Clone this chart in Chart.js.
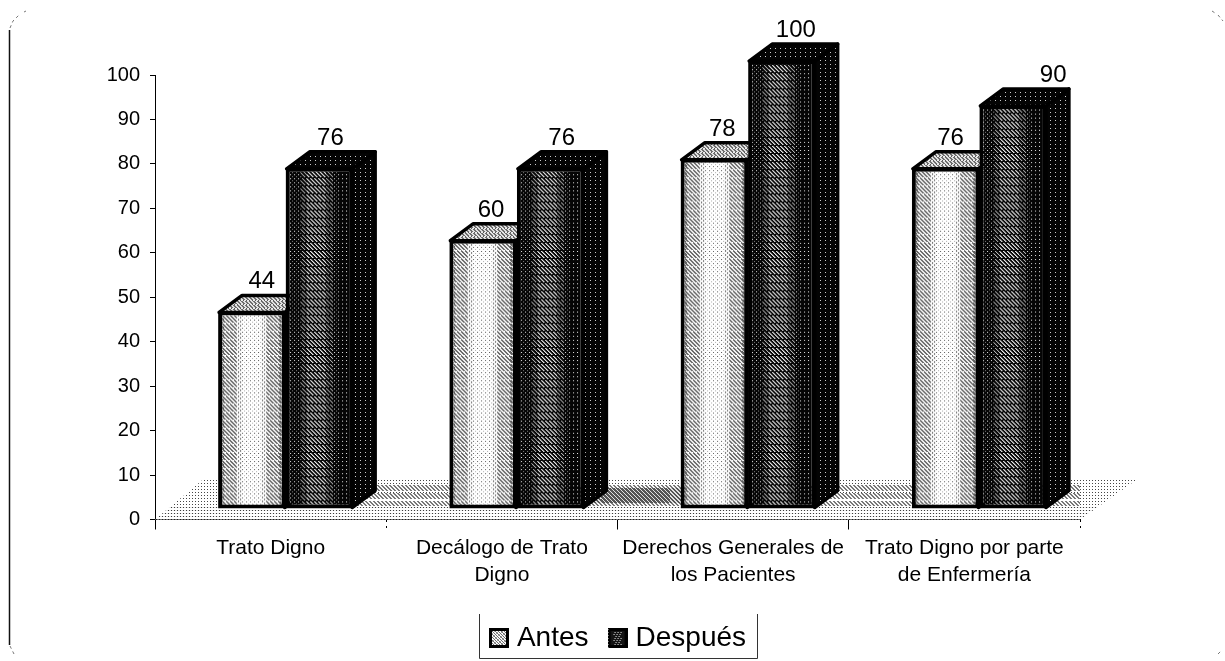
<!DOCTYPE html>
<html lang="es">
<head>
<meta charset="utf-8">
<title>Trato Digno</title>
<script src="https://cdn.jsdelivr.net/npm/chart.js@4"></script>
<style>
html,body{margin:0;padding:0;background:#fff}
canvas{display:block}
</style>
</head>
<body>
<canvas id="grafica" width="1225" height="661"></canvas>
<script>
const categories = [
  ["Trato Digno"],
  ["Decálogo de Trato", "Digno"],
  ["Derechos Generales de", "los Pacientes"],
  ["Trato Digno por parte", "de Enfermería"]
];
const antes = [44, 60, 78, 76];
const despues = [76, 76, 100, 90];
const seriesNames = ["Antes", "Después"];

const FONT = '"Liberation Sans", Arial, sans-serif';
const GROUP_SHARE = 0.584;
const DEPTH = { x: 23, y: -17 };       // oblique vector of the 3D box
const FRONT = { x: 15, y: -10.5, k: 1.01 }; // front plane relative to the axis plane
// Horizontal shift of each value label, per series and category
const LABEL_SHIFT = [[10, 8, 8, 5], [11, 11, 14, 40]];

const mod = (a, n) => ((a % n) + n) % n;

// Builds a canvas whose pixels come from a grey-level function
function tile(w, h, grey) {
  const c = document.createElement("canvas");
  c.width = w; c.height = h;
  const g = c.getContext("2d");
  const img = g.createImageData(w, h);
  for (let y = 0; y < h; y++) for (let x = 0; x < w; x++) {
    const v = grey(x, y), i = (y * w + x) * 4;
    img.data[i] = img.data[i + 1] = img.data[i + 2] = v;
    img.data[i + 3] = 255;
  }
  g.putImageData(img, 0, 0);
  return c;
}

// Dithered shading of the light column: white middle, hatched flanks
const lightShade = (x, y) => {
  const u = Math.abs(x - 33) / 33;
  const stroke = mod(x - y, 4) < 2;
  if (u < 0.3) {
    if (mod(x, 4) === 0 && mod(y, 4) === 0) return 95;
    if (mod(x, 4) === 2 && mod(y, 4) === 2) return 175;
    return 255;
  }
  if (mod(y, 8) === 7) return mod(x, 4) === 0 ? 120 : 250;
  if (u < 0.46) return stroke && mod(x, 2) === 0 ? 130 : 250;
  if (u > 0.84) return mod(x - y, 4) < 3 ? 95 : 220;
  return stroke ? 105 : 245;
};
// Dithered shading of the dark column: black with dots and a hatched band
const darkShade = (x, y) => {
  if (x >= 15 && x <= 46 && mod(y, 8) !== 7) {
    const d = mod(x - y, 4);
    const inner = x > 20 && x < 40;
    if (d === 0) return inner ? 250 : 190;
    if (d === 1) return inner ? 120 : 40;
  }
  if (mod(x, 4) === 0 && mod(y, 4) === 0) return 225;
  if (x < 52 && mod(x, 4) === 2 && mod(y, 4) === 2) return 130;
  return 5;
};
const darkFace = (x, y) => (mod(x, 5) === 0 && mod(y, 4) === 0) ? 205 : 4;
const lightTop = (x, y) => mod(y, 4) === 0 ? (mod(x, 3) === 0 ? 90 : 235) : (mod(x - y, 4) < 2 ? 110 : 225);

// Floor shading, addressed in page pixels so that the bands line up with the axis
const floorShade = (x, y) => {
  const dots = (mod(x, 3) === 0 && mod(y, 3) === 0) ? 70 : 255;
  const centre = Math.max(0, 1 - Math.abs(x - 635) / 70);
  const side = Math.min(1, Math.max(0, (x - 190) / 120)) * Math.min(1, Math.max(0, (1110 - x) / 120));
  if (y >= 484 && y <= 505 && side > 0.25) {
    const band = mod(y - 485, 8);
    if (centre > 0.15 && y >= 488 && y <= 502) return mod(x - y, 4) < (centre > 0.5 ? 3 : 2) ? 85 : 225;
    if (band < 6) return mod(x - y, 4) < 2 ? 120 : 250;
    return dots;
  }
  if (y >= 506 && mod(y, 3) === 0) return mod(x, 3) === 0 ? 60 : 235;
  return dots;
};

const tiles = {
  light: tile(67, 8, lightShade),
  dark: tile(67, 8, darkShade),
  darkFace: tile(20, 8, darkFace),
  lightTop: tile(12, 12, lightTop),
  floor: tile(1225, 661, floorShade)
};

// Legend swatches: black square with a dithered core
const swatch = dark => tile(20, 20, (x, y) => {
  const edge = x < 3 || x > 16 || y < 3 || y > 16;
  if (edge) return dark && x === 0 && mod(y, 3) === 1 ? 200 : 0;
  if (dark) return (mod(x - y, 3) === 0 && x > 5 && x < 14 && mod(y, 2) === 0) ? 235 : 20;
  return mod(x - y, 3) === 0 ? 110 : (mod(x + y, 4) === 0 ? 170 : 250);
});
const swatches = [swatch(false), swatch(true)];

const canvas = document.getElementById("grafica");
const pen = canvas.getContext("2d");
const patterns = {};
for (const k in tiles) patterns[k] = pen.createPattern(tiles[k], "repeat");

// A fresh pattern per column so the shading follows each column's own left edge
function columnFill(datasetIndex) {
  return ctx => {
    const source = tiles[datasetIndex === 0 ? "light" : "dark"];
    if (ctx.dataIndex === undefined) return "#888";
    const sx = ctx.chart.scales.x;
    if (!sx) return "#888";
    const cat = sx.width / categories.length;
    const bw = cat * GROUP_SHARE / 2;
    const left = sx.getPixelForValue(ctx.dataIndex) - bw + datasetIndex * bw;
    const p = pen.createPattern(source, "repeat");
    p.setTransform(new DOMMatrix().translate(Math.round(left), 0));
    return p;
  };
}

const oblique = {
  id: "oblique",
  beforeDatasetsDraw(chart) {
    const { ctx, scales: { x, y } } = chart;
    const y0 = y.getPixelForValue(0);
    // Floor of the chart
    ctx.save();
    ctx.beginPath();
    ctx.moveTo(x.left, y0);
    ctx.lineTo(x.left + 48, y0 - 40);
    ctx.lineTo(x.right + 57, y0 - 40);
    ctx.lineTo(x.right, y0);
    ctx.closePath();
    ctx.fillStyle = patterns.floor;
    ctx.fill();
    ctx.restore();

    // Top and side faces, using the same positions as the columns
    const base = y0 + FRONT.y;
    const py = v => base + (v - y0) * FRONT.k;
    ctx.save();
    ctx.lineWidth = 3.5;
    ctx.lineJoin = "round";
    ctx.strokeStyle = "#000";
    chart.getSortedVisibleDatasetMetas().slice().reverse().forEach(meta => {
      const dark = meta.index === 1;
      meta.data.forEach(el => {
        const l = el.x - el.width / 2 + FRONT.x + 1, r = el.x + el.width / 2 + FRONT.x - 1;
        const t = py(el.y) + 1, b = py(el.base) - 1;
        ctx.beginPath();
        ctx.moveTo(r, t);
        ctx.lineTo(r + DEPTH.x, t + DEPTH.y);
        ctx.lineTo(r + DEPTH.x, b + DEPTH.y);
        ctx.lineTo(r, b);
        ctx.closePath();
        ctx.fillStyle = dark ? patterns.darkFace : patterns.lightTop;
        ctx.fill(); ctx.stroke();
        ctx.beginPath();
        ctx.moveTo(l, t);
        ctx.lineTo(l + DEPTH.x, t + DEPTH.y);
        ctx.lineTo(r + DEPTH.x, t + DEPTH.y);
        ctx.lineTo(r, t);
        ctx.closePath();
        ctx.fillStyle = dark ? patterns.darkFace : patterns.lightTop;
        ctx.fill(); ctx.stroke();
      });
    });
    ctx.restore();
  },
  beforeDatasetDraw(chart) {
    const y0 = chart.scales.y.getPixelForValue(0);
    chart.ctx.save();
    chart.ctx.transform(1, 0, 0, FRONT.k, FRONT.x, y0 + FRONT.y - y0 * FRONT.k);
  },
  afterDatasetDraw(chart) {
    chart.ctx.restore();
  },
  afterDatasetsDraw(chart) {
    const { ctx, scales: { y } } = chart;
    const y0 = y.getPixelForValue(0);
    const base = y0 + FRONT.y;
    ctx.save();
    ctx.fillStyle = "#000";
    ctx.font = "24px " + FONT;
    ctx.textAlign = "center";
    ctx.textBaseline = "alphabetic";
    chart.getSortedVisibleDatasetMetas().forEach(meta => {
      meta.data.forEach((el, i) => {
        const value = chart.data.datasets[meta.index].data[i];
        const top = base + (el.y - y0) * FRONT.k;
        ctx.fillText(String(value), el.x + FRONT.x + LABEL_SHIFT[meta.index][i], top + DEPTH.y - 6);
      });
    });
    ctx.restore();
  },
  afterLayout(chart) {
    // The legend sits centred under the whole page, not under the plot
    const lg = chart.legend;
    const h = lg.height;
    lg.left = 8; lg.right = 1233;
    lg.top = 599; lg.bottom = lg.top + h;
  },
  afterDraw(chart) {
    const { ctx } = chart;
    ctx.save();
    // Open frame around the legend
    ctx.strokeStyle = "#333";
    ctx.lineWidth = 1;
    ctx.beginPath();
    ctx.moveTo(479.5, 614); ctx.lineTo(479.5, 658.5); ctx.lineTo(757.5, 658.5); ctx.lineTo(757.5, 614);
    ctx.stroke();
    // Outer border: the left edge and the remains of the rounded corners
    ctx.strokeStyle = "#111";
    ctx.lineWidth = 1.5;
    ctx.beginPath();
    ctx.moveTo(9.5, 30); ctx.lineTo(9.5, 645);
    ctx.stroke();
    ctx.strokeStyle = "#777";
    ctx.lineWidth = 1;
    ctx.setLineDash([3, 3]);
    const arcs = [
      [[10, 28], [13, 21], [19, 15]],
      [[24, 12], [26, 11]],
      [[1212, 11], [1215, 13]],
      [[1218, 15], [1223, 21]],
      [[10, 646], [14, 654]],
      [[1218, 654], [1222, 650]]
    ];
    arcs.forEach(pts => {
      ctx.beginPath();
      pts.forEach((p, i) => i ? ctx.lineTo(p[0], p[1]) : ctx.moveTo(p[0], p[1]));
      ctx.stroke();
    });
    ctx.restore();
  }
};

new Chart(pen, {
  type: "bar",
  data: {
    labels: categories,
    datasets: [
      { label: seriesNames[0], data: antes, backgroundColor: columnFill(0), borderColor: "#000", borderWidth: 4, borderSkipped: false, clip: false },
      { label: seriesNames[1], data: despues, backgroundColor: columnFill(1), borderColor: "#000", borderWidth: 4, borderSkipped: false, clip: false }
    ]
  },
  options: {
    responsive: false,
    animation: false,
    devicePixelRatio: 1,
    categoryPercentage: GROUP_SHARE,
    barPercentage: 1,
    layout: { padding: { top: 75, right: 145, left: 0, bottom: 4 } },
    events: [],
    plugins: {
      tooltip: { enabled: false },
      title: { display: false },
      legend: {
        position: "bottom",
        labels: {
          color: "#000",
          font: { family: FONT, size: 28 },
          padding: 25,
          usePointStyle: true,
          pointStyleWidth: 8,
          generateLabels: () => seriesNames.map((name, i) => ({
            text: name,
            pointStyle: swatches[i],
            datasetIndex: i,
            fontColor: "#000",
            lineWidth: 0
          }))
        }
      }
    },
    scales: {
      x: {
        grid: {
          drawOnChartArea: false,
          offset: true,
          color: "#000",
          tickColor: "#000",
          tickLength: 10,
          tickBorderDash: c => (c.index === 1 || c.index === undefined) ? [2, 4] : []
        },
        border: { color: "#000", width: 1 },
        ticks: { color: "#000", font: { family: FONT, size: 21, lineHeight: 1.25 }, padding: 6, maxRotation: 0, minRotation: 0, autoSkip: false }
      },
      y: {
        min: 0,
        max: 100,
        afterFit(s) { s.width = 155; },
        grid: { drawOnChartArea: false, color: "#000", tickColor: "#000", tickLength: 5 },
        border: { color: "#000", width: 1 },
        ticks: { color: "#000", stepSize: 10, font: { family: FONT, size: 20 }, padding: 10 }
      }
    }
  },
  plugins: [oblique]
});
</script>
</body>
</html>
